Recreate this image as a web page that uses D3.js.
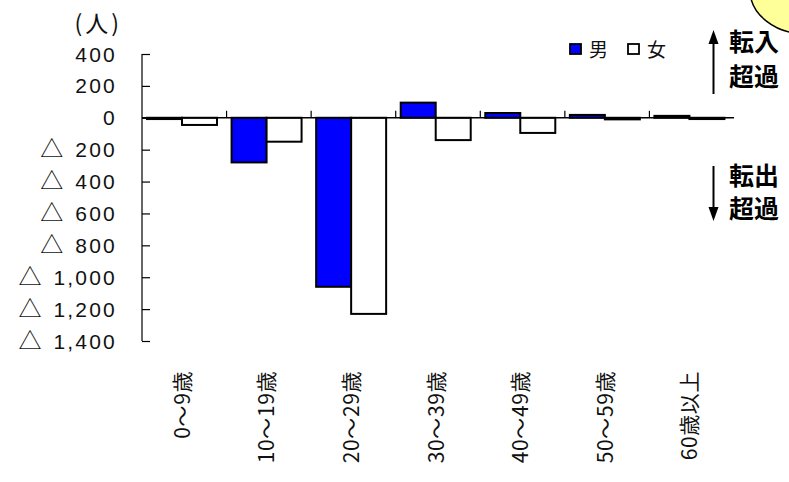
<!DOCTYPE html>
<html>
<head>
<meta charset="utf-8">
<script src="https://cdn.jsdelivr.net/npm/d3@7/dist/d3.min.js"></script>
<style>
  html, body { margin: 0; padding: 0; background: #fff; }
  svg { display: block; }
  .jp { font-family: "Noto Sans CJK JP", "Noto Sans", sans-serif; }
  .num { font-family: "Liberation Sans", "DejaVu Sans", sans-serif; }
</style>
</head>
<body>
<svg id="chart" width="789" height="482"></svg>
<script>
// 年齢階級別 転入超過数（人）
const ageGroups = ["0～9歳", "10～19歳", "20～29歳", "30～39歳", "40～49歳", "50～59歳", "60歳以上"];
const sexes = ["男", "女"];
const maleValues = [-8, -280, -1060, 95, 30, 18, 12];
const femaleValues = [-45, -150, -1230, -140, -95, -10, -8];
const yTicks = [400, 200, 0, -200, -400, -600, -800, -1000, -1200, -1400];

const svg = d3.select("#chart");

const x = d3.scaleBand().domain(ageGroups).range([142, 734]);
const xSex = d3.scaleBand().domain(sexes).range([5, 75]);
const y = d3.scaleLinear().domain([-1400, 400]).range([341, 54]);
const colour = { "男": "#0000ff", "女": "#ffffff" };

// callout bubble at the top-right corner
svg.append("ellipse")
  .attr("cx", 806).attr("cy", -10).attr("rx", 56).attr("ry", 44)
  .attr("fill", "#ffff99").attr("stroke", "#000").attr("stroke-width", 1.5);

// y axis: line with inward ticks
const yAxis = d3.axisRight(y).tickValues(yTicks).tickSize(8).tickFormat("");
const gy = svg.append("g").attr("transform", "translate(142,0)").call(yAxis);
gy.select(".domain").attr("d", `M0,${y(400)}V${y(-1400)}`).attr("stroke", "#000").attr("stroke-width", 1.2);
gy.selectAll(".tick line").attr("stroke", "#000").attr("stroke-width", 1.2);

// y tick labels, negatives marked with △
const fmt = d3.format(",");
const yLabels = svg.append("g").selectAll("text").data(yTicks).join("text")
  .attr("class", "num")
  .attr("x", 117)
  .attr("y", d => y(d))
  .attr("dy", "0.36em")
  .attr("text-anchor", "end")
  .attr("font-size", 21)
  .attr("fill", "#111");
yLabels.filter(d => d < 0).append("tspan")
  .attr("class", "jp")
  .attr("font-size", 23)
  .text("△");
yLabels.append("tspan")
  .attr("letter-spacing", 2.2)
  .attr("dx", d => d < 0 ? 12 : 0)
  .text(d => fmt(Math.abs(d)));

svg.append("text")
  .attr("class", "jp")
  .attr("x", 122).attr("y", 32)
  .attr("text-anchor", "end")
  .attr("font-size", 23)
  .attr("letter-spacing", 3)
  .attr("fill", "#111")
  .text("(人)");

// bars
const rows = ageGroups.map((g, i) => ({ group: g, values: [
  { sex: "男", v: maleValues[i] },
  { sex: "女", v: femaleValues[i] }
]}));

const groups = svg.append("g").selectAll("g").data(rows).join("g")
  .attr("transform", d => `translate(${x(d.group)},0)`);

groups.selectAll("rect").data(d => d.values).join("rect")
  .attr("x", d => xSex(d.sex))
  .attr("width", xSex.bandwidth())
  .attr("y", d => Math.min(y(d.v), y(0)))
  .attr("height", d => Math.abs(y(d.v) - y(0)))
  .attr("fill", d => colour[d.sex])
  .attr("stroke", "#000")
  .attr("stroke-width", 2);

// zero line with category separators
const x0 = d3.axisTop(x).tickSize(0).tickFormat("");
const gx = svg.append("g").attr("transform", `translate(0,${y(0)})`).call(x0);
gx.select(".domain").attr("d", `M142,0H734`).attr("stroke", "#000").attr("stroke-width", 1.5);
gx.selectAll(".tick").remove();
gx.selectAll("line.sep").data(ageGroups.slice(1)).join("line")
  .attr("class", "sep")
  .attr("x1", d => x(d)).attr("x2", d => x(d))
  .attr("y1", 0).attr("y2", -7)
  .attr("stroke", "#000").attr("stroke-width", 1.2);

// rotated category labels
svg.append("g").selectAll("text").data(ageGroups).join("text")
  .attr("class", "jp")
  .attr("transform", d => `translate(${x(d) + x.bandwidth() / 2 - 2},371) rotate(-90)`)
  .attr("text-anchor", "end")
  .attr("dy", "0.36em")
  .attr("font-size", 21)
  .attr("letter-spacing", 0.6)
  .attr("fill", "#111")
  .text(d => d);

// legend
const legend = svg.append("g");
const legendX = { "男": 570, "女": 628 };
sexes.forEach(s => {
  legend.append("rect")
    .attr("x", legendX[s]).attr("y", 44).attr("width", 11).attr("height", 10)
    .attr("fill", colour[s]).attr("stroke", "#000").attr("stroke-width", 1.8);
  legend.append("text")
    .attr("class", "jp")
    .attr("x", legendX[s] + 19).attr("y", 50).attr("dy", "0.36em")
    .attr("font-size", 19).attr("fill", "#111")
    .text(s);
});

// direction notes on the right
const note = svg.append("g");
note.append("line").attr("x1", 713.5).attr("x2", 713.5).attr("y1", 42).attr("y2", 94)
  .attr("stroke", "#000").attr("stroke-width", 2);
note.append("path").attr("d", "M713.5,30L708.5,44H718.5Z").attr("fill", "#000");
note.append("line").attr("x1", 713.5).attr("x2", 713.5).attr("y1", 166).attr("y2", 210)
  .attr("stroke", "#000").attr("stroke-width", 2);
note.append("path").attr("d", "M713.5,221L708.5,207H718.5Z").attr("fill", "#000");

const noteLines = [["転入", 42], ["超過", 77], ["転出", 176], ["超過", 209]];
note.selectAll("text").data(noteLines).join("text")
  .attr("class", "jp")
  .attr("x", 729).attr("y", d => d[1]).attr("dy", "0.36em")
  .attr("font-size", 25).attr("font-weight", 700).attr("fill", "#000")
  .text(d => d[0]);
</script>
</body>
</html>
